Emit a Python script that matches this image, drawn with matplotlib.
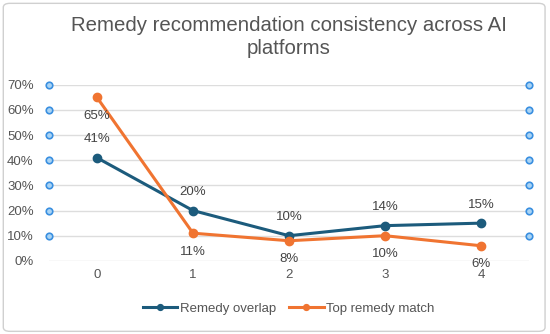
import matplotlib.pyplot as plt
from matplotlib.patches import FancyBboxPatch

plt.rcParams['font.family'] = ['Liberation Sans', 'DejaVu Sans']

platforms = [0, 1, 2, 3, 4]
remedy_overlap = [41, 20, 10, 14, 15]
top_match = [65, 11, 8, 10, 6]
y_ticks = [0, 10, 20, 30, 40, 50, 60, 70]

blue = '#1c5b7c'
orange = '#f07431'
grey_txt = '#555555'

fig = plt.figure(figsize=(5.5, 3.34), dpi=100)
frame = FancyBboxPatch((0.006, 0.008), 0.985, 0.982, boxstyle='round,pad=0,rounding_size=0.012',
                       transform=fig.transFigure, facecolor='white', edgecolor='#d0d0d0', lw=1,
                       zorder=-5)
fig.patches.append(frame)

ax = fig.add_axes([0.089, 0.219, 0.873, 0.527])
ax.set_facecolor('none')

ax.plot(platforms, remedy_overlap, color=blue, lw=2.2, marker='o', ms=6, label='Remedy overlap', zorder=3)
ax.plot(platforms, top_match, color=orange, lw=2.2, marker='o', ms=6, label='Top remedy match', zorder=3)

for x, v in zip(platforms, remedy_overlap):
    ax.annotate(f'{v}%', (x, v), xytext=(0, 9), textcoords='offset points',
                ha='center', va='bottom', fontsize=9.5, color='#444444')
for x, v in zip(platforms, top_match):
    ax.annotate(f'{v}%', (x, v), xytext=(0, -9), textcoords='offset points',
                ha='center', va='top', fontsize=9.5, color='#444444')

# small circles on both edges of the plot at each gridline
for t in y_ticks[1:]:
    for xe in (0, 1):
        ax.scatter([xe], [t], s=22, facecolor='#a9d4f5', edgecolor='#3a8fe0', lw=1.2,
                   transform=ax.get_yaxis_transform(), clip_on=False, zorder=4)

ax.set_xlim(-0.5, 4.5)
ax.set_ylim(0, 70)
ax.set_xticks(platforms)
ax.set_yticks(y_ticks)
ax.set_yticklabels([f'{t}%' for t in y_ticks])
ax.grid(axis='y', color='#dddddd', lw=1)
ax.set_axisbelow(True)
for s in ax.spines.values():
    s.set_visible(False)
ax.tick_params(axis='both', length=0, labelsize=9.5, colors=grey_txt)
ax.tick_params(axis='y', pad=11)
ax.tick_params(axis='x', pad=6)

fig.text(0.525, 0.889, 'Remedy recommendation consistency across AI\nplatforms', ha='center', va='center',
         fontsize=14.7, color='#555555', linespacing=1.25)

fig.legend(loc='center', bbox_to_anchor=(0.525, 0.075), ncol=2, frameon=False, fontsize=9.5,
           handlelength=2.6, handletextpad=0.2, columnspacing=1.0, markerscale=0.7,
           labelcolor=grey_txt)

fig.savefig('out.png', dpi=100)
